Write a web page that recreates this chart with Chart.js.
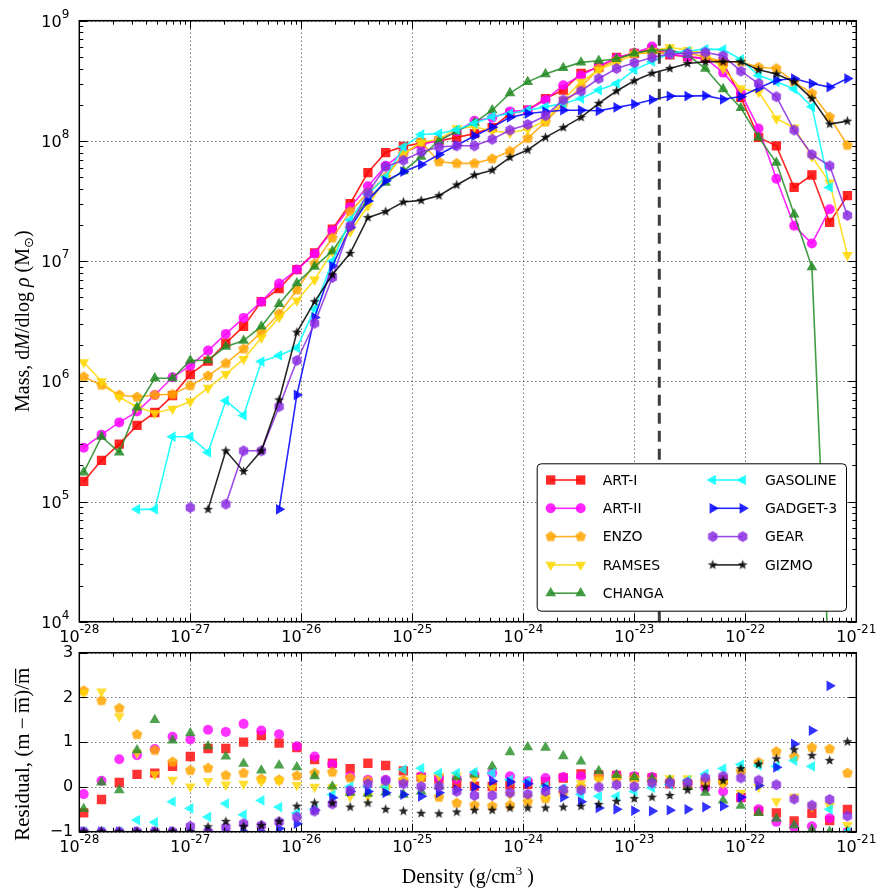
<!DOCTYPE html>
<html>
<head>
<meta charset="utf-8">
<script src="https://cdn.jsdelivr.net/npm/chart.js@4.4.1/dist/chart.umd.min.js"></script>
<style>
  html, body { margin: 0; padding: 0; background: #fff; }
  #wrap { position: relative; width: 879px; height: 892px; }
  canvas { position: absolute; left: 0; }
  #massChart { top: 0; }
  #resChart { top: 630px; }
</style>
</head>
<body>
<div id="wrap">
  <canvas id="massChart" width="879" height="650"></canvas>
  <canvas id="resChart" width="879" height="262"></canvas>
</div>
<script>
// bin centres (g/cm^3)
const densities = [
  1.096e-28, 1.585e-28, 2.291e-28, 3.311e-28, 4.786e-28, 6.918e-28, 1.000e-27, 1.445e-27, 2.089e-27, 3.020e-27, 4.365e-27,
  6.310e-27, 9.120e-27, 1.318e-26, 1.905e-26, 2.754e-26, 3.981e-26, 5.754e-26, 8.318e-26, 1.202e-25, 1.738e-25, 2.512e-25,
  3.631e-25, 5.248e-25, 7.586e-25, 1.096e-24, 1.585e-24, 2.291e-24, 3.311e-24, 4.786e-24, 6.918e-24, 1.000e-23, 1.445e-23,
  2.089e-23, 3.020e-23, 4.365e-23, 6.310e-23, 9.120e-23, 1.318e-22, 1.905e-22, 2.754e-22, 3.981e-22, 5.754e-22, 8.318e-22
];
const codeNames = ['ART-I', 'ART-II', 'ENZO', 'RAMSES', 'CHANGA', 'GASOLINE', 'GADGET-3', 'GEAR', 'GIZMO'];
const critDensity = 1.68e-23;

// mass per dlog rho (Msun)
const massART1 = [
  1.47e5, 2.2e5, 3.0e5, 4.3e5, 5.5e5, 7.6e5, 1.14e6, 1.47e6, 2.08e6, 2.86e6, 4.6e6,
  5.9e6, 8.5e6, 1.17e7, 1.84e7, 3.0e7, 5.45e7, 8.0e7, 9.0e7, 9.6e7, 1.0e8, 1.07e8,
  1.15e8, 1.29e8, 1.69e8, 1.8e8, 2.25e8, 2.65e8, 3.65e8, 4.1e8, 4.95e8, 5.35e8, 5.8e8,
  5.2e8, 5.0e8, 4.86e8, 4.5e8, 2.3e8, 1.07e8, 9.1e7, 4.1e7, 5.2e7, 2.1e7, 3.5e7
];
const massART2 = [
  2.8e5, 3.6e5, 4.55e5, 5.6e5, 7.7e5, 1.08e6, 1.35e6, 1.8e6, 2.48e6, 3.37e6, 4.6e6,
  6.5e6, 8.5e6, 1.15e7, 1.8e7, 2.8e7, 4.2e7, 6.2e7, 8.0e7, 9.2e7, 1.02e8, 1.2e8,
  1.47e8, 1.56e8, 1.76e8, 1.8e8, 2.2e8, 2.9e8, 3.5e8, 4.2e8, 4.9e8, 5.4e8, 6.1e8,
  5.3e8, 5.0e8, 4.86e8, 3.7e8, 2.5e8, 1.27e8, 4.85e7, 1.97e7, 1.4e7, 2.7e7, null
];
const massENZO = [
  1.09e6, 9.3e5, 7.7e5, 7.4e5, 7.7e5, 7.8e5, 9.2e5, 1.11e6, 1.41e6, 1.86e6, 2.56e6,
  3.64e6, 5.77e6, 9.5e6, 1.56e7, 2.58e7, 3.7e7, 5.0e7, 7.8e7, 9.8e7, 6.7e7, 6.5e7,
  6.5e7, 7.1e7, 8.2e7, 1.05e8, 1.44e8, 2.04e8, 2.8e8, 4.0e8, 4.7e8, 5.35e8, 5.4e8,
  5.4e8, 5.4e8, 5.0e8, 4.56e8, 4.56e8, 4.1e8, 4.0e8, 3.1e8, 2.48e8, 1.58e8, 9.2e7
];
const massRAMSES = [
  1.44e6, 1.0e6, 7.4e5, 6.1e5, 5.45e5, 5.9e5, 6.8e5, 8.8e5, 1.15e6, 1.53e6, 2.3e6,
  3.4e6, 4.7e6, 7.0e6, 1.2e7, 1.75e7, 2.87e7, 4.9e7, 7.8e7, 9.7e7, 1.03e8, 1.27e8,
  1.31e8, 1.21e8, 1.17e8, 1.25e8, 1.47e8, 2.2e8, 3.1e8, 3.9e8, 4.5e8, 5.2e8, 5.6e8,
  6.0e8, 5.7e8, 5.35e8, 4.0e8, 2.73e8, 2.55e8, 1.53e8, 1.29e8, 7.4e7, 4.5e7, 1.12e7
];
const massCHANGA = [
  1.75e5, 3.46e5, 2.56e5, 6.07e5, 1.06e6, 1.06e6, 1.49e6, 1.5e6, 1.94e6, 2.18e6, 2.86e6,
  4.4e6, 6.56e6, 9.0e6, 1.21e7, 2.0e7, 3.3e7, 4.5e7, 5.6e7, 7.4e7, 1.0e8, 1.2e8,
  1.42e8, 1.8e8, 2.5e8, 3.1e8, 3.6e8, 4.05e8, 4.5e8, 4.65e8, 4.8e8, 5.35e8, 5.7e8,
  5.7e8, 5.2e8, 4.0e8, 2.7e8, 1.88e8, 1.07e8, 6.6e7, 2.45e7, 8.9e6, 3.0e3, null
];
const massGASOLINE = [
  null, null, null, 8.6e4, 8.6e4, 3.46e5, 3.46e5, 2.56e5, 6.9e5, 5.2e5, 1.46e6,
  1.64e6, 1.9e6, 4.0e6, 1.0e7, 2.2e7, 3.6e7, 5.0e7, 8.9e7, 1.13e8, 1.15e8, 1.24e8,
  1.4e8, 1.59e8, 1.69e8, 1.8e8, 1.92e8, 2.05e8, 2.25e8, 2.65e8, 3.0e8, 3.9e8, 4.56e8,
  5.35e8, 5.6e8, 5.8e8, 5.77e8, 4.76e8, 3.5e8, 3.1e8, 2.7e8, 1.92e8, 4.1e7, null
];
const massGADGET = [
  null, null, null, null, null, null, null, null, null, null, null,
  8.6e4, 7.7e5, 3.4e6, 9.1e6, 1.9e7, 3.16e7, 4.65e7, 5.55e7, 6.35e7, 7.7e7, 9.2e7,
  1.1e8, 1.3e8, 1.57e8, 1.69e8, 1.75e8, 1.8e8, 1.8e8, 1.78e8, 1.9e8, 2.02e8, 2.2e8,
  2.36e8, 2.36e8, 2.38e8, 2.22e8, 2.34e8, 2.75e8, 3.2e8, 3.3e8, 3.0e8, 2.8e8, 3.3e8
];
const massGEAR = [
  null, null, null, null, null, null, 8.9e4, null, 9.5e4, 2.64e5, 2.64e5,
  6.15e5, 1.49e6, 3.04e6, 7.3e6, 1.96e7, 3.7e7, 6.1e7, 6.9e7, 8.1e7, 8.9e7, 9.1e7,
  9.1e7, 1.03e8, 1.23e8, 1.37e8, 1.62e8, 2.19e8, 2.6e8, 3.3e8, 4.0e8, 4.47e8, 4.95e8,
  5.3e8, 5.35e8, 5.46e8, 5.1e8, 3.8e8, 3.0e8, 2.33e8, 1.23e8, 7.7e7, 6.2e7, 2.4e7
];
const massGIZMO = [
  null, null, null, null, null, null, null, 8.6e4, 2.64e5, 1.78e5, 2.64e5,
  7.0e5, 2.56e6, 4.6e6, 7.7e6, 1.16e7, 2.3e7, 2.58e7, 3.1e7, 3.2e7, 3.5e7, 4.3e7,
  5.2e7, 5.7e7, 7.3e7, 8.4e7, 1.07e8, 1.29e8, 1.57e8, 2.05e8, 2.6e8, 3.16e8, 3.65e8,
  4.0e8, 4.4e8, 4.56e8, 4.56e8, 4.56e8, 3.9e8, 3.6e8, 3.1e8, 2.25e8, 1.38e8, 1.46e8
];

// residuals (m - mbar) / mbar
const resART1 = [
  -0.58, -0.28, 0.10, 0.28, 0.31, 0.46, 0.68, 0.86, 0.86, 1.0, 1.15,
  0.98, 0.88, 0.61, 0.53, 0.41, 0.53, 0.48, 0.36, 0.22, 0.18, 0.07,
  0.02, 0.01, 0.05, 0.06, 0.12, 0.2, 0.29, 0.27, 0.26, 0.22, 0.2,
  0.07, 0.05, 0.1, 0.16, -0.24, -0.54, -0.58, -0.76, -0.59, -0.75, -0.5
];
const resART2 = [
  -0.16, 0.14, 0.62, 0.71, 0.85, 1.12, 1.06, 1.28, 1.23, 1.41, 1.26,
  1.18, 0.91, 0.68, 0.51, 0.24, 0.16, 0.16, 0.13, 0.24, 0.2, 0.18,
  0.27, 0.31, 0.24, 0.13, 0.2, 0.22, 0.24, 0.25, 0.26, 0.24, 0.22,
  0.12, 0.09, -0.02, -0.1, -0.24, -0.5, -0.78, -0.9, -0.88, -0.7, -1
];
const resENZO = [
  2.15, 1.93, 1.76, 1.17, 0.82, 0.56, 0.37, 0.42, 0.26, 0.31, 0.18,
  0.16, 0.25, 0.31, 0.33, 0.2, 0.14, 0.0, 0.15, 0.2, -0.23, -0.36,
  -0.41, -0.43, -0.41, -0.33, -0.26, -0.13, 0.0, 0.22, 0.22, 0.2, 0.12,
  0.1, 0.1, 0.11, 0.1, 0.35, 0.55, 0.79, 0.67, 0.88, 0.85, 0.31
];
const resRAMSES = [
  2.1, 2.13, 1.58, 0.76, 0.28, 0.16, 0.01, 0.13, 0.05, 0.07, 0.12,
  0.14, 0.04, 0.0, -0.01, -0.21, -0.21, -0.04, 0.15, 0.2, 0.24, 0.25,
  0.2, -0.02, -0.18, -0.22, -0.22, -0.06, 0.08, 0.16, 0.15, 0.15, 0.15,
  0.19, 0.19, 0.12, 0.08, -0.13, 0.0, -0.32, -0.22, -0.44, -0.43, -0.85
];
const resCHANGA = [
  -0.49, 0.1, -0.07, 0.82, 1.5, 1.04, 1.2, 0.91, 0.68, 0.52, 0.37,
  0.48, 0.44, 0.24, 0.01, -0.13, -0.15, -0.12, -0.17, -0.1, 0.02, 0.22,
  0.28, 0.46, 0.78, 0.89, 0.88, 0.69, 0.57, 0.36, 0.27, 0.22, 0.19,
  0.15, 0.0, -0.13, -0.3, -0.42, -0.58, -0.71, -0.86, -0.95, -1, -1
];
const resGASOLINE = [
  -1, -1, -1, -0.74, -0.79, -0.33, -0.48, -0.67, -0.37, -0.62, -0.3,
  -0.45, -0.58, -0.5, -0.17, 0.01, 0.01, 0.0, 0.39, 0.42, 0.31, 0.31,
  0.33, 0.31, 0.16, 0.12, 0.02, -0.03, -0.17, -0.21, -0.21, -0.1, -0.02,
  0.05, 0.15, 0.29, 0.41, 0.5, 0.48, 0.46, 0.59, 0.46, -0.5, -1
];
const resGADGET = [
  -1, -1, -1, -1, -1, -1, -1, -1, -1, -1, -1,
  -0.93, -0.82, -0.52, -0.24, -0.1, -0.1, -0.13, -0.17, -0.21, -0.13, -0.06,
  0.0, 0.13, 0.11, 0.07, -0.02, -0.23, -0.33, -0.47, -0.5, -0.53, -0.54,
  -0.52, -0.5, -0.45, -0.43, -0.23, 0.03, 0.44, 0.96, 1.26, 2.26, 3.4
];
const resGEAR = [
  -1, -1, -1, -1, -1, -1, -0.88, -1, -0.9, -0.82, -0.86,
  -0.78, -0.67, -0.54, -0.38, -0.08, 0.07, 0.14, 0.07, 0.01, 0.01, -0.1,
  -0.19, -0.19, -0.13, -0.16, -0.1, -0.06, -0.07, 0.0, 0.05, 0.01, 0.09,
  0.09, 0.1, 0.2, 0.24, 0.2, 0.15, 0.05, -0.27, -0.41, -0.28, -0.65
];
const resGIZMO = [
  -1, -1, -1, -1, -1, -1, -1, -0.89, -0.77, -0.88, -0.86,
  -0.77, -0.43, -0.36, -0.36, -0.45, -0.36, -0.5, -0.54, -0.59, -0.6, -0.56,
  -0.52, -0.52, -0.47, -0.47, -0.47, -0.45, -0.43, -0.39, -0.32, -0.26, -0.23,
  -0.19, -0.07, 0.0, 0.14, 0.41, 0.51, 0.63, 0.83, 0.7, 0.59, 1.01
];

// tick labels
const xTickExps = [-28, -27, -26, -25, -24, -23, -22, -21];
const massTickExps = [4, 5, 6, 7, 8, 9];
const resTicks = [-1, 0, 1, 2, 3];

const massSeries = [massART1, massART2, massENZO, massRAMSES, massCHANGA, massGASOLINE, massGADGET, massGEAR, massGIZMO];
const resSeries = [resART1, resART2, resENZO, resRAMSES, resCHANGA, resGASOLINE, resGADGET, resGEAR, resGIZMO];
const colors = [[255, 0, 0], [255, 0, 255], [255, 165, 0], [255, 215, 0], [34, 139, 34],
                [0, 255, 255], [0, 0, 255], [138, 43, 226], [0, 0, 0]];
const rgba = (c, a) => `rgba(${c[0]},${c[1]},${c[2]},${a})`;

// polygon markers that Chart.js has no built-in style for
function polyMarker(col, n, r, inner) {
  const c = document.createElement('canvas');
  c.width = c.height = Math.ceil(2 * r + 2);
  const g = c.getContext('2d');
  const cx = c.width / 2, cy = c.height / 2;
  const pts = inner ? n * 2 : n;
  g.beginPath();
  for (let k = 0; k < pts; k++) {
    const rr = inner && k % 2 ? r * inner : r;
    const ang = -Math.PI / 2 + k * 2 * Math.PI / pts;
    const px = cx + rr * Math.cos(ang), py = cy + rr * Math.sin(ang);
    k ? g.lineTo(px, py) : g.moveTo(px, py);
  }
  g.closePath();
  g.fillStyle = rgba(col, 0.85);
  g.fill();
  return c;
}

const markers = [
  { style: 'rect', radius: 6.6, rot: 0 },
  { style: 'circle', radius: 5, rot: 0 },
  { style: polyMarker(colors[2], 5, 5.6), radius: 5, rot: 0 },
  { style: 'triangle', radius: 6.2, rot: 180 },
  { style: 'triangle', radius: 6.2, rot: 0 },
  { style: 'triangle', radius: 6.2, rot: 270 },
  { style: 'triangle', radius: 6.2, rot: 90 },
  { style: polyMarker(colors[7], 6, 5.4), radius: 5, rot: 0 },
  { style: polyMarker(colors[8], 5, 5.2, 0.42), radius: 5, rot: 0 }
];

const TICK_FONT = '16px "DejaVu Sans"';
const SUP_FONT = '12px "DejaVu Sans"';
const SERIF = '"Liberation Serif"';

function drawPow(ctx, exp, x, y, align) {
  const base = '10', sup = String(exp);
  ctx.font = TICK_FONT;
  const w1 = ctx.measureText(base).width;
  ctx.font = SUP_FONT;
  const w2 = ctx.measureText(sup).width;
  const sx = align === 'center' ? x - (w1 + w2) / 2 : x - (w1 + w2);
  ctx.textAlign = 'left';
  ctx.textBaseline = 'middle';
  ctx.font = TICK_FONT;
  ctx.fillText(base, sx, y);
  ctx.font = SUP_FONT;
  ctx.fillText(sup, sx + w1, y - 8);
}

function drawRich(ctx, parts, cx, cy, rotate) {
  ctx.save();
  ctx.translate(cx, cy);
  if (rotate) ctx.rotate(-Math.PI / 2);
  let w = 0;
  parts.forEach(p => { ctx.font = p.font; w += ctx.measureText(p.t).width; });
  let x = -w / 2;
  ctx.textAlign = 'left';
  ctx.textBaseline = 'alphabetic';
  ctx.fillStyle = '#000';
  parts.forEach(p => {
    ctx.font = p.font;
    ctx.fillText(p.t, x, 7 + (p.dy || 0));
    const pw = ctx.measureText(p.t).width;
    if (p.bar) ctx.fillRect(x + 1, 7 - 14, pw - 2, 1.2);
    x += pw;
  });
  ctx.restore();
}

function decor(opts) {
  return {
    id: 'decor',
    beforeDatasetsDraw(chart) {
      const { ctx, chartArea: a, scales: { x, y } } = chart;
      ctx.save();
      ctx.strokeStyle = 'rgba(0,0,0,0.8)';
      ctx.lineWidth = 1;
      ctx.setLineDash([1, 3]);
      xTickExps.forEach(e => {
        const px = Math.round(x.getPixelForValue(Math.pow(10, e))) + 0.5;
        ctx.beginPath(); ctx.moveTo(px, a.top); ctx.lineTo(px, a.bottom); ctx.stroke();
      });
      opts.yMajors.forEach(v => {
        const py = Math.round(y.getPixelForValue(v)) + 0.5;
        ctx.beginPath(); ctx.moveTo(a.left, py); ctx.lineTo(a.right, py); ctx.stroke();
      });
      ctx.restore();
    },
    afterDatasetsDraw(chart) {
      const { ctx, chartArea: a, scales: { x, y } } = chart;
      ctx.save();
      ctx.strokeStyle = '#000';
      ctx.lineWidth = 1;
      const tickX = (v, len) => {
        const px = Math.round(x.getPixelForValue(v)) + 0.5;
        ctx.beginPath();
        ctx.moveTo(px, a.bottom); ctx.lineTo(px, a.bottom - len);
        ctx.moveTo(px, a.top); ctx.lineTo(px, a.top + len);
        ctx.stroke();
      };
      const tickY = (v, len) => {
        const py = Math.round(y.getPixelForValue(v)) + 0.5;
        ctx.beginPath();
        ctx.moveTo(a.left, py); ctx.lineTo(a.left + len, py);
        ctx.moveTo(a.right, py); ctx.lineTo(a.right - len, py);
        ctx.stroke();
      };
      xTickExps.forEach((e, i) => {
        tickX(Math.pow(10, e), 8);
        if (i < xTickExps.length - 1) for (let k = 2; k < 10; k++) tickX(k * Math.pow(10, e), 4);
      });
      opts.yMajors.forEach(v => tickY(v, 8));
      opts.yMinors.forEach(v => tickY(v, 4));
      ctx.lineWidth = 1.5;
      ctx.strokeRect(a.left, a.top, a.right - a.left, a.bottom - a.top);

      ctx.fillStyle = '#000';
      xTickExps.forEach(e => drawPow(ctx, e, x.getPixelForValue(Math.pow(10, e)), a.bottom + 16, 'center'));
      opts.yLabels(ctx, a, y);
      opts.titles(ctx, a, chart);
      ctx.restore();
    },
    afterDraw(chart) {
      if (opts.legend) opts.legend(chart);
    }
  };
}

function drawLegend(chart) {
  const { ctx, chartArea: a } = chart;
  const bx = a.right - 319.6, by = a.bottom - 158.4, bw = 309.3, bh = 147.4;
  ctx.save();
  ctx.beginPath();
  ctx.roundRect(bx + 0.5, by + 0.5, bw, bh, 4);
  ctx.fillStyle = '#fff';
  ctx.fill();
  ctx.strokeStyle = '#000';
  ctx.lineWidth = 1;
  ctx.stroke();
  codeNames.forEach((name, k) => {
    const col = k < 5 ? 0 : 1, row = k < 5 ? k : k - 5;
    const x0 = bx + (col ? 176 : 14), x1 = x0 + 30, yy = by + 16.7 + 28.3 * row;
    ctx.strokeStyle = rgba(colors[k], 0.85);
    ctx.lineWidth = 1.6;
    ctx.beginPath(); ctx.moveTo(x0, yy); ctx.lineTo(x1, yy); ctx.stroke();
    ctx.fillStyle = rgba(colors[k], 0.85);
    const m = markers[k];
    const po = { pointStyle: m.style, radius: m.radius, rotation: m.rot, borderWidth: 0 };
    Chart.helpers.drawPoint(ctx, po, x0, yy);
    Chart.helpers.drawPoint(ctx, po, x1, yy);
    ctx.fillStyle = '#000';
    ctx.font = '14px "DejaVu Sans"';
    ctx.textAlign = 'left';
    ctx.textBaseline = 'middle';
    ctx.fillText(name, bx + (col ? 228.3 : 66), yy + 1);
  });
  ctx.restore();
}

const massMinors = [];
massTickExps.slice(0, -1).forEach(e => { for (let k = 2; k < 10; k++) massMinors.push(k * Math.pow(10, e)); });

const massDatasets = codeNames.map((name, k) => ({
  label: name,
  data: densities.map((d, i) => ({ x: d, y: massSeries[k][i] })),
  borderColor: rgba(colors[k], 0.85),
  backgroundColor: rgba(colors[k], 0.85),
  pointStyle: markers[k].style,
  pointRadius: markers[k].radius,
  pointRotation: markers[k].rot,
  pointBorderWidth: 0,
  borderWidth: 1.6,
  spanGaps: false,
  order: 9 - k,
  clip: 0
}));
massDatasets.push({
  label: 'critical',
  data: [{ x: critDensity, y: 1e4 }, { x: critDensity, y: 1e9 }],
  borderColor: 'rgba(40,40,40,0.9)',
  borderWidth: 3,
  borderDash: [11, 7],
  pointRadius: 0,
  order: 0,
  clip: 0
});

new Chart(document.getElementById('massChart'), {
  type: 'line',
  data: { datasets: massDatasets },
  options: {
    responsive: false,
    animation: false,
    events: [],
    layout: { padding: { top: 20.7, right: 22.7, left: 0, bottom: 0 } },
    plugins: { legend: { display: false }, tooltip: { enabled: false } },
    scales: {
      x: {
        type: 'logarithmic', min: 1e-28, max: 1e-21,
        ticks: { display: false }, grid: { display: false }, border: { display: false },
        afterFit: s => { s.height = 28.3; }
      },
      y: {
        type: 'logarithmic', min: 1e4, max: 1e9,
        ticks: { display: false }, grid: { display: false }, border: { display: false },
        afterFit: s => { s.width = 79.3; }
      }
    }
  },
  plugins: [decor({
    yMajors: massTickExps.map(e => Math.pow(10, e)),
    yMinors: massMinors,
    yLabels: (ctx, a, y) => massTickExps.forEach(e =>
      drawPow(ctx, e, a.left - 10, y.getPixelForValue(Math.pow(10, e)) + 2, 'right')),
    titles: (ctx, a) => {
      const f = '20px ' + SERIF, fi = 'italic 20px ' + SERIF;
      drawRich(ctx, [
        { t: 'Mass, d', font: f }, { t: 'M', font: fi }, { t: '/dlog ', font: f },
        { t: 'ρ', font: fi }, { t: ' (M', font: f }, { t: '⊙', font: '13px "DejaVu Sans"', dy: 4 },
        { t: ')', font: f }
      ], 22, (a.top + a.bottom) / 2, true);
    },
    legend: drawLegend
  })]
});

const resDatasets = codeNames.map((name, k) => ({
  label: name,
  data: densities.map((d, i) => ({ x: d, y: resSeries[k][i] })),
  backgroundColor: rgba(colors[k], 0.8),
  borderColor: rgba(colors[k], 0.8),
  pointStyle: markers[k].style,
  pointRadius: markers[k].radius,
  pointRotation: markers[k].rot,
  pointBorderWidth: 0,
  showLine: false,
  order: 9 - k,
  clip: 0
}));

new Chart(document.getElementById('resChart'), {
  type: 'scatter',
  data: { datasets: resDatasets },
  options: {
    responsive: false,
    animation: false,
    events: [],
    layout: { padding: { top: 22.7, right: 22.7, left: 0, bottom: 0 } },
    plugins: { legend: { display: false }, tooltip: { enabled: false } },
    scales: {
      x: {
        type: 'logarithmic', min: 1e-28, max: 1e-21,
        ticks: { display: false }, grid: { display: false }, border: { display: false },
        afterFit: s => { s.height = 60.3; }
      },
      y: {
        type: 'linear', min: -1, max: 3,
        ticks: { display: false }, grid: { display: false }, border: { display: false },
        afterFit: s => { s.width = 79.3; }
      }
    }
  },
  plugins: [decor({
    yMajors: resTicks,
    yMinors: [],
    yLabels: (ctx, a, y) => resTicks.forEach(v => {
      ctx.font = TICK_FONT;
      ctx.textAlign = 'right';
      ctx.textBaseline = 'middle';
      ctx.fillText(v < 0 ? '\u2212' + (-v) : String(v), a.left - 6, y.getPixelForValue(v));
    }),
    titles: (ctx, a, chart) => {
      const f = '21px ' + SERIF;
      drawRich(ctx, [
        { t: 'Residual, (m\u2009\u2212\u2009', font: f }, { t: 'm', font: f, bar: true },
        { t: ')/', font: f }, { t: 'm', font: f, bar: true }
      ], 22, (a.top + a.bottom) / 2 + 12, true);
      drawRich(ctx, [
        { t: 'Density (g/cm', font: '20px ' + SERIF }, { t: '3', font: '13px ' + SERIF, dy: -8 },
        { t: ' )', font: '20px ' + SERIF }
      ], (a.left + a.right) / 2, chart.height - 16, false);
    }
  })]
});
</script>
</body>
</html>
